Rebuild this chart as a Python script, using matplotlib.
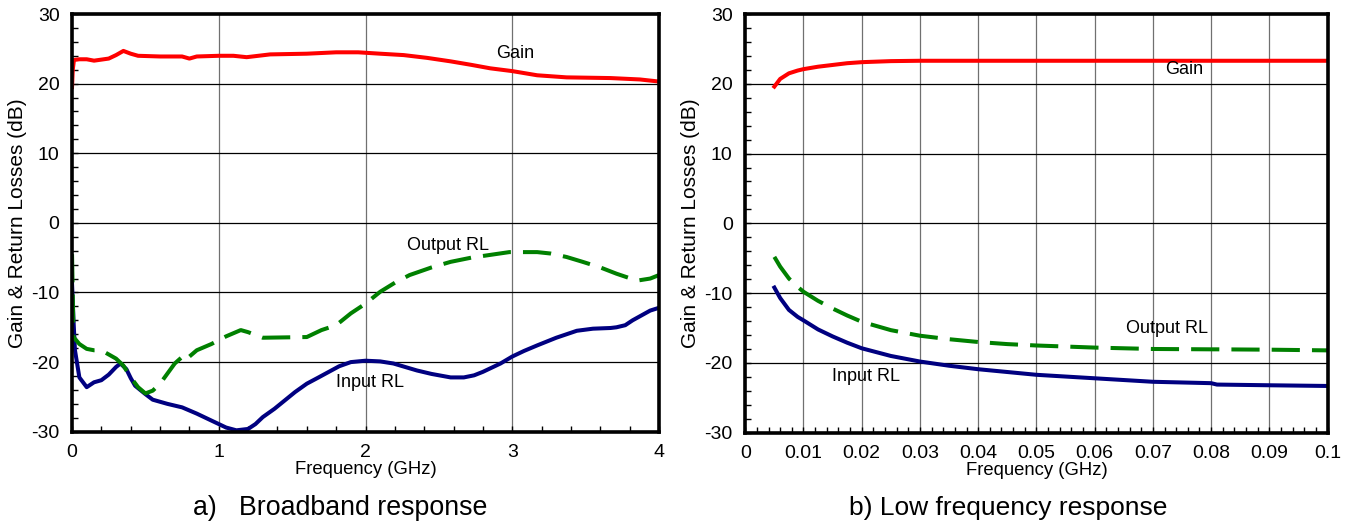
import matplotlib
matplotlib.use("Agg")
import matplotlib.pyplot as plt
from matplotlib.ticker import MultipleLocator, FuncFormatter

plt.rcParams['font.family'] = ['Liberation Sans', 'DejaVu Sans']
plt.rcParams['axes.unicode_minus'] = False

# ---------------- Data: (a) Broadband response ----------------
bb_gain_f = [0.0, 0.005, 0.013, 0.05, 0.1, 0.15, 0.25, 0.3, 0.35, 0.4, 0.45, 0.6, 0.75, 0.8, 0.85,
             1.0, 1.1, 1.19, 1.35, 1.6, 1.8, 1.95, 2.1, 2.26, 2.42, 2.58, 2.72, 2.85, 3.0, 3.17,
             3.37, 3.67, 3.87, 4.0]
bb_gain = [19.5, 22.0, 23.4, 23.5, 23.5, 23.3, 23.6, 24.1, 24.7, 24.3, 24.0, 23.9, 23.9, 23.6, 23.9,
           24.0, 24.0, 23.8, 24.2, 24.3, 24.5, 24.5, 24.3, 24.1, 23.7, 23.2, 22.7, 22.2, 21.8,
           21.2, 20.9, 20.8, 20.6, 20.3]

bb_in_f = [0.0, 0.01, 0.02, 0.05, 0.1, 0.15, 0.2, 0.25, 0.3, 0.33, 0.37, 0.4, 0.43, 0.5, 0.55,
           0.65, 0.75, 0.85, 0.95, 1.05, 1.12, 1.2, 1.25, 1.3, 1.38, 1.45, 1.52, 1.6, 1.68, 1.75,
           1.82, 1.9, 2.0, 2.1, 2.19, 2.27, 2.35, 2.45, 2.58, 2.67, 2.74, 2.8, 2.92, 3.0, 3.08,
           3.17, 3.3, 3.44, 3.55, 3.67, 3.71, 3.77, 3.82, 3.88, 3.94, 4.0]
bb_in = [-8.7, -14.0, -18.3, -22.2, -23.6, -22.9, -22.6, -21.8, -20.7, -20.2, -21.0, -22.3,
         -23.4, -24.6, -25.4, -26.0, -26.5, -27.4, -28.4, -29.4, -29.8, -29.6, -28.9, -27.9,
         -26.7, -25.5, -24.3, -23.1, -22.2, -21.4, -20.6, -20.0, -19.8, -19.9, -20.2, -20.7,
         -21.2, -21.7, -22.2, -22.2, -21.9, -21.4, -20.2, -19.2, -18.4, -17.6, -16.5, -15.5,
         -15.2, -15.1, -15.0, -14.7, -14.0, -13.3, -12.6, -12.2]

bb_out_f = [0.0, 0.01, 0.05, 0.1, 0.15, 0.2, 0.3, 0.35, 0.4, 0.45, 0.5, 0.55, 0.6, 0.7,
            0.78, 0.8, 0.85, 0.95, 1.05, 1.15, 1.2, 1.3, 1.6, 1.7, 1.8, 1.9, 2.0, 2.1, 2.2,
            2.3, 2.45, 2.58, 2.72, 2.85, 2.98, 3.07, 3.17, 3.26, 3.37, 3.48, 3.6, 3.71, 3.85,
            3.94, 4.0]
bb_out = [-4.5, -16.4, -17.4, -18.1, -18.3, -18.3, -19.5, -20.5, -22.2, -23.6, -24.5, -24.1,
          -23.1, -20.2, -18.7, -19.2, -18.3, -17.4, -16.3, -15.4, -15.7, -16.5, -16.4, -15.4,
          -14.7, -13.0, -11.6, -9.9, -8.6, -7.5, -6.4, -5.6, -5.0, -4.6, -4.2, -4.2, -4.2,
          -4.4, -4.9, -5.6, -6.4, -7.3, -8.3, -8.0, -7.5]

# ---------------- Data: (b) Low frequency response ----------------
lf_f = [0.005, 0.006, 0.0075, 0.009, 0.01, 0.0125, 0.015, 0.0175, 0.02, 0.025, 0.03, 0.035,
        0.04, 0.045, 0.05, 0.06, 0.07, 0.08, 0.081, 0.09, 0.1]
lf_gain = [19.6, 20.7, 21.5, 21.9, 22.1, 22.45, 22.7, 22.95, 23.1, 23.25, 23.3, 23.3, 23.3,
           23.3, 23.3, 23.3, 23.3, 23.3, 23.3, 23.3, 23.3]
lf_in = [-9.2, -10.7, -12.4, -13.4, -13.9, -15.2, -16.2, -17.1, -17.9, -19.0, -19.8, -20.4,
         -20.9, -21.3, -21.7, -22.2, -22.7, -22.9, -23.1, -23.2, -23.3]
lf_out = [-4.8, -6.2, -7.9, -9.1, -9.8, -11.1, -12.2, -13.2, -14.1, -15.3, -16.1, -16.6,
          -17.0, -17.3, -17.5, -17.8, -18.0, -18.05, -18.05, -18.1, -18.2]

bb_xticks = [0, 1, 2, 3, 4]
lf_xticks = [0, 0.01, 0.02, 0.03, 0.04, 0.05, 0.06, 0.07, 0.08, 0.09, 0.1]
yticks = [-30, -20, -10, 0, 10, 20, 30]

xlabel = "Frequency (GHz)"
ylabel = "Gain & Return Losses (dB)"
titles = ["a)   Broadband response", "b) Low frequency response"]

RED = "#ff0000"
NAVY = "#000080"
GREEN = "#008000"

fig = plt.figure(figsize=(13.54, 5.27), dpi=100)
ax1 = fig.add_axes([0.0532, 0.1808, 0.4335, 0.7926])
ax2 = fig.add_axes([0.5504, 0.1789, 0.4301, 0.7945])

def style(ax, xmax, xticks, xminor):
    ax.set_xlim(0, xmax)
    ax.set_ylim(-30, 30)
    ax.set_xticks(xticks)
    ax.set_yticks(yticks)
    ax.xaxis.set_minor_locator(MultipleLocator(xminor))
    ax.yaxis.set_minor_locator(MultipleLocator(2))
    ax.xaxis.set_major_formatter(FuncFormatter(lambda v, p: "%g" % round(v, 4)))
    ax.tick_params(which='both', direction='in', top=False, right=False,
                   labelsize=14, width=1, color='black')
    ax.tick_params(axis='y', pad=9)
    ax.tick_params(axis='x', pad=9)
    ax.tick_params(which='major', length=4)
    ax.tick_params(which='minor', length=4)
    for s in ax.spines.values():
        s.set_linewidth(2.6)
        s.set_color('black')
    ax.grid(axis='y', which='major', color='black', linewidth=0.9)
    ax.grid(axis='x', which='major', color='#707070', linewidth=0.9)
    ax.set_axisbelow(True)
    ax.set_xlabel(xlabel, fontsize=13.3, labelpad=0)
    ax.set_ylabel(ylabel, fontsize=15)

style(ax1, 4, bb_xticks, 0.2)
style(ax2, 0.1, lf_xticks, 0.002)
ax1.yaxis.set_label_coords(-0.0765, 0.5)
ax2.yaxis.set_label_coords(-0.0770, 0.5)

dash = (0, (7, 3))
lw = 2.9

ax1.plot(bb_gain_f, bb_gain, color=RED, lw=lw)
ax1.plot(bb_in_f, bb_in, color=NAVY, lw=lw)
ax1.plot(bb_out_f, bb_out, color=GREEN, lw=lw, ls=dash)

ax2.plot(lf_f, lf_gain, color=RED, lw=lw)
ax2.plot(lf_f, lf_in, color=NAVY, lw=lw)
ax2.plot(lf_f, lf_out, color=GREEN, lw=lw, ls=dash)

fs_ann = 13
ax1.text(3.02, 24.4, "Gain", fontsize=fs_ann, ha='center', va='center')
ax1.text(2.56, -3.2, "Output RL", fontsize=fs_ann, ha='center', va='center')
ax1.text(2.03, -22.9, "Input RL", fontsize=fs_ann, ha='center', va='center')

ax2.text(0.0753, 22.1, "Gain", fontsize=fs_ann, ha='center', va='center')
ax2.text(0.0724, -15.0, "Output RL", fontsize=fs_ann, ha='center', va='center')
ax2.text(0.0207, -21.9, "Input RL", fontsize=fs_ann, ha='center', va='center')

fig.text(340 / 1354, 1 - 508 / 527, titles[0], fontsize=19.3, ha='center', va='center')
fig.text(1008 / 1354, 1 - 508 / 527, titles[1], fontsize=19, ha='center', va='center')

fig.savefig("out.png", dpi=100, facecolor='white')
